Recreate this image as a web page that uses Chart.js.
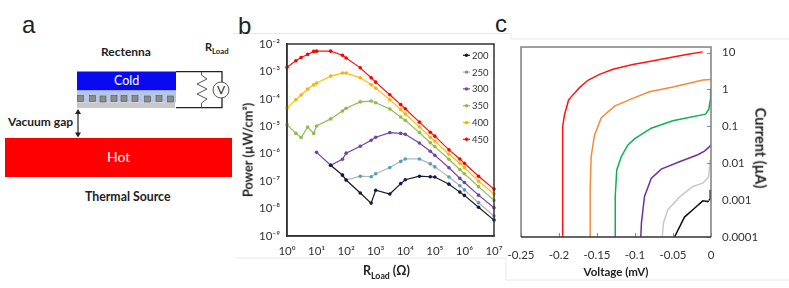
<!DOCTYPE html>
<html><head><meta charset="utf-8">
<script src="https://cdn.jsdelivr.net/npm/chart.js@4"></script>
<style>
html,body{margin:0;padding:0;background:#fff;width:789px;height:288px;overflow:hidden;font-family:Lato,sans-serif;color:#222}
canvas{position:absolute}
#wrapB{position:absolute;left:240px;top:30px;width:270px;height:250px}
#wrapC{position:absolute;left:500px;top:35px;width:289px;height:245px}
.t{position:absolute;white-space:nowrap;line-height:1}
.b{font-weight:700}
sub{font-size:70%;line-height:0}
svg{position:absolute;left:0;top:0}
</style></head><body>
<svg width="789" height="288" viewBox="0 0 789 288">
<path d="M233 33.5H511V39H789M235 258H506V280H789" fill="none" stroke="#e8e8e8" stroke-width="1"/>
<rect x="5" y="138" width="227" height="39" fill="#ff0000"/>
<rect x="77" y="71.5" width="99" height="19" fill="#0a0af0"/>
<rect x="77" y="90.5" width="99" height="12" fill="#b4c7e7"/>
<rect x="77" y="102.5" width="98" height="5.5" fill="#c8c8c8"/>
<g fill="#8a8a8a" stroke="#555" stroke-width="0.6">
<rect x="77.5" y="95.5" width="6" height="6"/><rect x="89.5" y="95.5" width="6" height="6"/><rect x="100" y="96" width="6" height="6"/><rect x="111" y="95.5" width="6" height="6"/><rect x="121" y="95.5" width="6" height="6"/><rect x="132" y="95.5" width="6" height="6"/><rect x="144.5" y="96" width="6" height="6"/><rect x="156" y="95.5" width="6" height="6"/><rect x="167.5" y="96" width="6" height="6"/>
</g>
<path d="M176 71.7H222V82M222 98V107.7H176" fill="none" stroke="#222" stroke-width="1.3"/>
<path d="M201.5 72L201.5 75L207 79L197 84L207 89L197 94L207 99L201.5 103L201.5 108" fill="none" stroke="#444" stroke-width="0.9"/>
<circle cx="221" cy="90" r="8" fill="#fff" stroke="#444" stroke-width="0.9"/>
<path d="M78 111V135" stroke="#222" stroke-width="1.2"/>
<path d="M78 109L75 114H81ZM78 137.5L75 132.5H81Z" fill="#222"/>
</svg>
<div class="t" style="left:22px;top:11px;font:24px 'Liberation Sans',sans-serif">a</div>
<div class="t" style="left:238px;top:12px;font:24px 'Liberation Sans',sans-serif">b</div>
<div class="t" style="left:495px;top:10px;font:24px 'Liberation Sans',sans-serif">c</div>
<div class="t b" style="left:101px;top:46px;font-size:12px">Rectenna</div>
<div class="t b" style="left:205px;top:41px;font-size:11px">R<sub>Load</sub></div>
<div class="t" style="left:114px;top:75px;font-size:12.5px;color:#fff">Cold</div>
<div class="t" style="left:217px;top:84px;font-size:12px">V</div>
<div class="t b" style="left:8px;top:116px;font-size:12px">Vacuum gap</div>
<div class="t" style="left:107px;top:150px;font-size:14px;color:#fff">Hot</div>
<div class="t b" style="left:85px;top:191px;font-size:12.3px">Thermal Source</div>
<div id="wrapB"><canvas id="chartB" width="270" height="250"></canvas></div>
<div id="wrapC"><canvas id="chartC" width="289" height="245"></canvas></div>
<div class="t b" style="left:363px;top:265px;font-size:12.5px">R<sub>Load</sub> (Ω)</div>
<div class="t b" style="left:248px;top:150px;font-size:12.8px;transform:translate(-50%,-50%) rotate(-90deg)">Power (µW/cm²)</div>
<div class="t b" style="left:760px;top:147.5px;font-size:14.5px;transform:translate(-50%,-50%) rotate(90deg)">Current (µA)</div>
<script>
// Panel b: load resistance (ohm) and log10 of power (uW/cm2)
const resistance = [1,2,3,5,8,10,30,75,100,300,700,1000,3000,7000,1e4,3e4,7e4,1e5,3e5,7e5,1e6,3e6,1e7];
const logP200 = [null,null,null,null,null,null,-6.42,-6.78,-6.96,-7.43,-7.80,-7.33,-7.47,-7.09,-6.95,-6.82,-6.84,-6.85,-7.11,-7.40,-7.52,-7.95,-8.42];
const logP250 = [null,null,null,null,null,null,-6.42,-6.78,-6.96,-6.82,-6.84,-6.73,-6.50,-6.28,-6.19,-6.19,-6.37,-6.48,-6.85,-7.17,-7.32,-7.79,-8.27];
const logP300 = [null,null,null,null,null,-5.95,-6.42,-6.20,-5.98,-5.73,-5.51,-5.40,-5.23,-5.26,-5.29,-5.61,-5.91,-6.06,-6.51,-6.90,-7.05,-7.51,-7.97];
const logP350 = [-4.94,-5.26,-5.41,-5.03,-5.26,-4.99,-4.73,-4.44,-4.34,-4.11,-4.08,-4.14,-4.37,-4.66,-4.78,-5.23,-5.60,-5.74,-6.20,-6.58,-6.73,-7.20,-7.70];
const logP400 = [-4.33,-4.03,-3.86,-3.64,-3.49,-3.42,-3.17,-3.06,-3.06,-3.23,-3.48,-3.61,-4.03,-4.39,-4.55,-5.02,-5.40,-5.54,-6.02,-6.35,-6.51,-7.00,-7.47];
const logP450 = [-2.85,-2.61,-2.49,-2.38,-2.27,-2.26,-2.26,-2.41,-2.51,-2.87,-3.23,-3.39,-3.85,-4.21,-4.36,-4.85,-5.22,-5.36,-5.86,-6.19,-6.35,-6.82,-7.29];
const seriesLabelsB = ['200','250','300','350','400','450'];
const xTicksB = [1,10,100,1e3,1e4,1e5,1e6,1e7];
const yTicksB = [1e-9,1e-8,1e-7,1e-6,1e-5,1e-4,1e-3,1e-2];

// Panel c: voltage (mV) and log10 of current (uA)
const v200 = [-.048,-.0349,-.0217,-.0108,-.0042,-.001,-.001];
const i200 = [-4,-3.46,-3.22,-3.02,-3.04,-2.97,-2.72];
const v250 = [-.0642,-.0625,-.0568,-.0415,-.024,-.0108,-.0033,-.001];
const i250 = [-4,-3.62,-3.26,-2.92,-2.63,-2.54,-2.38,-1.91];
const v300 = [-.0924,-.0915,-.0875,-.0787,-.0655,-.0415,-.0174,-.0086,-.002,0];
const i300 = [-4,-3.61,-2.90,-2.41,-2.16,-1.96,-1.77,-1.67,-1.55,-1.50];
const v350 = [-.1257,-.126,-.124,-.118,-.1095,-.1007,-.0787,-.0503,-.0072,-.0029,-.001,-.0005];
const i350 = [-4,-2.90,-2.18,-1.82,-1.51,-1.34,-1.05,-.85,-.67,-.54,-.29,-.02];
const v400 = [-.159,-.159,-.1577,-.1533,-.1445,-.127,-.103,-.081,-.05,-.0108,-.0003];
const i400 = [-4,-2.72,-1.82,-1.24,-.77,-.45,-.24,-.06,.07,.26,.27];
const v450 = [-.1954,-.1954,-.195,-.1928,-.1875,-.184,-.173,-.162,-.1467,-.129,-.103,-.081,-.05,-.0283,-.0108];
const i450 = [-4,-1.64,-1.01,-.69,-.29,-.20,.05,.25,.41,.55,.68,.76,.88,.96,1.02];
const xTicksC = [-0.25,-0.2,-0.15,-0.1,-0.05,0];
const yTicksC = [0.0001,0.001,0.01,0.1,1,10];

const sup = {'-':'⁻','0':'⁰','1':'¹','2':'²','3':'³','4':'⁴','5':'⁵','6':'⁶','7':'⁷','8':'⁸','9':'⁹'};
const pow10Label = v => '10' + String(Math.round(Math.log10(v))).split('').map(c => sup[c]).join('');
const pts = (xs, ys) => xs.map((x,i) => ys[i] === null ? null : ({x, y: Math.pow(10, ys[i])})).filter(Boolean);
const FONT = 'Lato, sans-serif';
const DARK = '#333';
const noPadX = s => { s.paddingLeft = 0; s.paddingRight = 0; };
const noPadY = s => { s.paddingTop = 0; s.paddingBottom = 0; };

const stylesB = [
 {line:'#1a1a1a', mark:'#14145a'},
 {line:'#b5b5b5', mark:'#4f9fc0'},
 {line:'#7b3fa8', mark:'#6a4a9e'},
 {line:'#8fbc55', mark:'#8fbc45'},
 {line:'#ffc000', mark:'#ffb000'},
 {line:'#ff1010', mark:'#ff0000'}
];
const seriesB = [logP200,logP250,logP300,logP350,logP400,logP450];

const legendPlugin = {
 id:'sideLegend',
 afterDraw(chart){
  const c = chart.ctx, x0 = 223, y0 = 25.3, dy = 16.8;
  c.save();
  c.font = '9.5px ' + FONT; c.textBaseline = 'middle'; c.textAlign = 'left';
  chart.data.datasets.forEach((d,i) => {
    const y = y0 + dy*i;
    c.strokeStyle = d.borderColor; c.lineWidth = 1.2;
    c.beginPath(); c.moveTo(x0,y); c.lineTo(x0+7,y); c.stroke();
    c.fillStyle = d.pointBackgroundColor;
    c.beginPath(); c.arc(x0+3.5,y,1.7,0,Math.PI*2); c.fill();
    c.fillStyle = DARK; c.fillText(d.label,x0+9,y+0.5);
  });
  c.restore();
 }
};

const chartB = new Chart(document.getElementById('chartB'),{
 type:'scatter',
 data:{datasets:seriesB.map((s,i)=>({
   label:seriesLabelsB[i], data:pts(resistance,s), showLine:true, tension:0,
   borderColor:stylesB[i].line, borderWidth:1.2,
   pointBackgroundColor:stylesB[i].mark, pointBorderColor:stylesB[i].mark,
   pointRadius:1.8, pointBorderWidth:0
 }))},
 options:{
  responsive:false, animation:false, events:[],
  layout:{padding:{top:14,right:16,left:0,bottom:0}},
  plugins:{legend:{display:false},tooltip:{enabled:false}},
  scales:{
   x:{type:'logarithmic',min:1,max:1e7,
      afterBuildTicks:s=>{s.ticks=xTicksB.map(v=>({value:v}));},
      afterFit:s=>{s.height=44;noPadX(s);},
      grid:{drawOnChartArea:false,drawTicks:false},
      border:{color:'#333',width:1.5},
      ticks:{callback:pow10Label,color:DARK,font:{family:FONT,size:11.5},maxRotation:0,autoSkip:false,padding:8}},
   y:{type:'logarithmic',min:1e-9,max:1e-2,
      afterBuildTicks:s=>{s.ticks=yTicksB.map(v=>({value:v}));},
      afterFit:s=>{s.width=47;noPadY(s);},
      grid:{drawOnChartArea:false,drawTicks:false},
      border:{color:'#333',width:1.5},
      ticks:{callback:pow10Label,color:DARK,font:{family:FONT,size:11.5},autoSkip:false,padding:7}}
  },
  clip:false
 },
 plugins:[legendPlugin,{
  id:'frameB',
  afterDraw(ch){const a=ch.chartArea,c=ch.ctx;c.save();c.strokeStyle='#333';c.lineWidth=1.5;c.strokeRect(a.left,a.top,a.right-a.left,a.bottom-a.top);c.restore();}
 }]
});

const stylesC = ['#111111','#c8c8c8','#7030a0','#10b050','#f58a3c','#ff1414'];
const seriesC = [[v200,i200],[v250,i250],[v300,i300],[v350,i350],[v400,i400],[v450,i450]];

const inwardTicks = {
 id:'inwardTicks',
 afterDraw(ch){
  const a=ch.chartArea,c=ch.ctx,X=ch.scales.x,Y=ch.scales.y;
  c.save();c.strokeStyle='#8a8a8a';c.lineWidth=1;
  c.beginPath();
  xTicksC.forEach(v=>{const p=Math.round(X.getPixelForValue(v))+.5;c.moveTo(p,a.bottom);c.lineTo(p,a.bottom-4);});
  yTicksC.forEach(v=>{const p=Math.round(Y.getPixelForValue(v))+.5;c.moveTo(a.right,p);c.lineTo(a.right-4,p);});
  c.stroke();
  c.strokeStyle='#7f7f7f';c.lineWidth=1.5;
  c.beginPath();c.moveTo(a.left,a.bottom);c.lineTo(a.left,a.top);c.lineTo(a.right,a.top);c.lineTo(a.right,a.bottom);c.stroke();
  c.strokeStyle='#333';
  c.beginPath();c.moveTo(a.left,a.bottom);c.lineTo(a.right,a.bottom);c.stroke();
  c.restore();
 }
};

const chartC = new Chart(document.getElementById('chartC'),{
 type:'scatter',
 data:{datasets:seriesC.map((s,i)=>({
   label:seriesLabelsB[i], data:pts(s[0],s[1]), showLine:true, tension:0,
   borderColor:stylesC[i], borderWidth:1.5, pointRadius:0
 }))},
 options:{
  responsive:false, animation:false, events:[],
  layout:{padding:{top:12,left:21,right:22,bottom:0}},
  plugins:{legend:{display:false},tooltip:{enabled:false}},
  scales:{
   x:{type:'linear',min:-0.25,max:0,
      afterBuildTicks:s=>{s.ticks=xTicksC.map(v=>({value:v}));},
      afterFit:s=>{s.height=43;noPadX(s);},
      grid:{drawOnChartArea:false,drawTicks:false},border:{display:false},
      ticks:{callback:v=>String(v),color:DARK,font:{family:FONT,size:11.5},maxRotation:0,autoSkip:false,padding:11},
      title:{display:true,text:'Voltage (mV)',color:'#222',font:{family:FONT,size:11.5,weight:'bold'},padding:{top:0,bottom:1}}},
   y:{type:'logarithmic',position:'right',min:0.0001,max:14.2,
      afterBuildTicks:s=>{s.ticks=yTicksC.map(v=>({value:v}));},
      afterFit:s=>{s.width=56;noPadY(s);},
      grid:{drawOnChartArea:false,drawTicks:false},border:{display:false},
      ticks:{callback:v=>String(v),color:DARK,font:{family:FONT,size:11.5},autoSkip:false,padding:11}}
  }
 },
 plugins:[inwardTicks]
});
</script>
</body></html>
